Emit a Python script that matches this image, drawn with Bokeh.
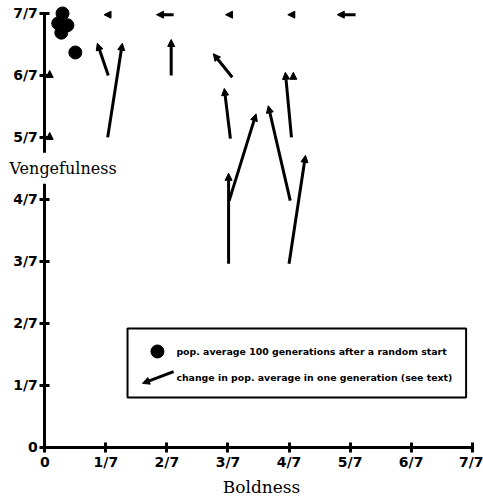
from bokeh.plotting import figure
from bokeh.models import (ColumnDataSource, Arrow, NormalHead, Label, BoxAnnotation,
                          FixedTicker, Range1d, LinearAxis)
from bokeh.embed import file_html
from bokeh.resources import INLINE

# ---- data (units: sevenths) ----
tick_values = [0, 1, 2, 3, 4, 5, 6, 7]
tick_labels = ["0", "1/7", "2/7", "3/7", "4/7", "5/7", "6/7", "7/7"]

# population averages 100 generations after random start
avg_boldness = [0.29, 0.22, 0.37, 0.27, 0.50]
avg_vengefulness = [7.0, 6.84, 6.81, 6.69, 6.37]

# change in population average in one generation (tail -> head)
arrow_x0 = [1.04, 1.03, 2.07, 3.07, 3.04, 4.04, 3.02, 4.02, 3.01, 4.00,
            1.05, 2.11, 3.06, 4.05, 5.09, 0.08, 0.08, 4.07]
arrow_y0 = [6.00, 5.00, 6.00, 5.97, 4.98, 5.00, 3.98, 3.98, 2.96, 2.96,
            6.98, 6.98, 6.98, 6.98, 6.98, 5.98, 4.98, 5.99]
arrow_x1 = [0.86, 1.27, 2.07, 2.76, 2.94, 3.94, 3.46, 3.66, 3.01, 4.27,
            0.97, 1.83, 2.96, 3.98, 4.79, 0.08, 0.08, 4.07]
arrow_y1 = [6.52, 6.52, 6.58, 6.35, 5.79, 6.05, 5.38, 5.51, 4.42, 4.71,
            6.98, 6.98, 6.98, 6.98, 6.98, 6.08, 5.08, 6.05]

legend_texts = ["pop. average 100 generations after a random start",
                "change in pop. average in one generation (see text)"]

TICK_FONT = "DejaVu Sans"
SERIF = "DejaVu Serif"

p = figure(width=483, height=497, output_backend="svg", toolbar_location=None,
           x_range=Range1d(-0.7255, 7.185), y_range=Range1d(-0.812, 7.209),
           x_axis_type=None, y_axis_type=None,
           min_border=0, min_border_left=0, min_border_right=0,
           min_border_top=0, min_border_bottom=0)
p.outline_line_color = None
p.grid.visible = False
p.background_fill_color = "white"

xax = LinearAxis(fixed_location=0, bounds=(0, 7))
yax = LinearAxis(fixed_location=0, bounds=(0, 7))
for ax in (xax, yax):
    ax.ticker = FixedTicker(ticks=tick_values)
    ax.major_label_overrides = {v: t for v, t in zip(tick_values, tick_labels)}
    ax.axis_line_width = 3
    ax.axis_line_color = "black"
    ax.major_tick_line_width = 3
    ax.major_tick_line_color = "black"
    ax.minor_tick_line_color = None
    ax.major_tick_in = 5
    ax.major_tick_out = 5
    ax.major_label_text_font = TICK_FONT
    ax.major_label_text_font_style = "bold"
    ax.major_label_text_font_size = "14px"
    ax.major_label_text_color = "black"
    ax.major_label_standoff = 2
p.add_layout(xax, "below")
p.add_layout(yax, "left")

# legend box
box = BoxAnnotation(left=1.355, right=6.90, bottom=0.80, top=1.916,
                    fill_alpha=0, line_color="black", line_alpha=1.0, line_width=2,
                    level="underlay")
p.add_layout(box)

# averages
p.scatter(avg_boldness, avg_vengefulness, size=13, color="black")

# arrows
src = ColumnDataSource(dict(x0=arrow_x0, y0=arrow_y0, x1=arrow_x1, y1=arrow_y1))
p.add_layout(Arrow(x_start="x0", y_start="y0", x_end="x1", y_end="y1", source=src,
                   line_width=3, line_color="black",
                   end=NormalHead(size=7, fill_color="black", line_color="black", line_width=1)))

# legend contents
p.scatter([1.845], [1.545], size=13, color="black")
p.add_layout(Arrow(x_start=2.11, y_start=1.22, x_end=1.60, y_end=1.03,
                   line_width=3, line_color="black",
                   end=NormalHead(size=7, fill_color="black", line_color="black", line_width=1)))
for txt, yy in zip(legend_texts, [1.545, 1.125]):
    p.add_layout(Label(x=2.155, y=yy, text=txt, text_font=TICK_FONT, text_font_style="bold",
                       text_font_size="9.4px", text_baseline="middle", text_color="black"))

# axis titles
p.add_layout(Label(x=-0.676, y=4.5, text="Vengefulness", text_font=SERIF,
                   text_font_size="16px", text_baseline="middle", text_align="left",
                   text_color="black", background_fill_color="white", padding=6))
p.add_layout(Label(x=3.55, y=-0.65, text="Boldness", text_font=SERIF,
                   text_font_size="17px", text_baseline="middle", text_align="center",
                   text_color="black"))

open("out.html", "w").write(file_html(p, INLINE))
